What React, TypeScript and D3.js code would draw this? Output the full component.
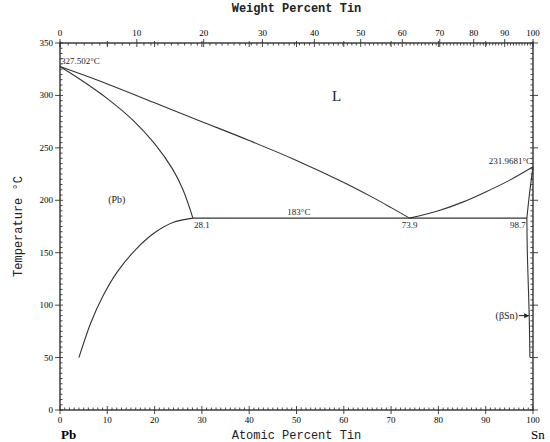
import React, { useRef, useEffect } from 'react'
import * as d3 from 'd3'

// phase boundaries, [atomic % Sn, temperature C]
const liquidusPb = [[0, 327.502], [10, 311], [20, 293], [30, 275], [40, 257], [50, 238], [60, 217], [66, 203], [70, 193], [73.9, 183]]
const solidusPb = [[0, 327.502], [5, 313], [10, 297], [15.4, 276.5], [20, 254], [23.9, 229], [26, 210], [28.1, 183]]
const solvusPb = [[28.1, 183], [24, 179], [20, 169], [16, 153], [12, 131], [9, 108], [6.5, 83], [4, 50]]
const liquidusSn = [[73.9, 183], [80, 190], [85, 198], [90, 208], [95, 219], [100, 231.9681]]
const solidusSn = [[100, 231.9681], [99.5, 215], [99.1, 200], [98.7, 183]]
const solvusSn = [[98.7, 183], [98.8, 150], [99.0, 120], [99.2, 90], [99.35, 50]]
const eutectic = [[28.1, 183], [98.7, 183]]

const atTicks = [0, 10, 20, 30, 40, 50, 60, 70, 80, 90, 100]
const wtTicks = [0, 10, 20, 30, 40, 50, 60, 70, 80, 90, 100]
const tempTicks = [0, 50, 100, 150, 200, 250, 300, 350]

// weight % -> atomic % (Pb 207.2, Sn 118.71)
const wtToAt = (w: number) => {
  const sn = w / 118.71
  const pb = (100 - w) / 207.2
  return (sn / (sn + pb)) * 100
}

function App() {
  const ref = useRef<SVGSVGElement>(null)
  const width = 550, height = 442
  const margin = { top: 43, right: 17, bottom: 32, left: 60 }

  useEffect(() => {
    const svg = d3.select(ref.current)
    svg.selectAll('*').remove()

    const x = d3.scaleLinear().domain([0, 100]).range([margin.left, width - margin.right])
    const y = d3.scaleLinear().domain([0, 350]).range([height - margin.bottom, margin.top])
    const x0 = x(0), x1 = x(100), y0 = y(0), y1 = y(350)
    const numFont = 'Liberation Serif, serif'
    const titleFont = 'Liberation Mono, monospace'

    // frame
    svg.append('rect')
      .attr('x', x0).attr('y', y1)
      .attr('width', x1 - x0).attr('height', y0 - y1)
      .attr('fill', 'none').attr('stroke', '#222').attr('stroke-width', 1.3)

    const g = svg.append('g').attr('stroke', '#333').attr('stroke-width', 0.9)

    // bottom axis (atomic %)
    d3.range(0, 101, 1).forEach(v => {
      const major = v % 10 === 0
      g.append('line').attr('x1', x(v)).attr('x2', x(v))
        .attr('y1', y0 - (major ? 4 : 2.5)).attr('y2', y0 + (major ? 4 : 0))
    })
    atTicks.forEach(v => {
      svg.append('text').attr('x', x(v)).attr('y', y0 + 13)
        .attr('text-anchor', 'middle').attr('font-family', numFont).attr('font-size', 9)
        .text(v)
    })

    // top axis (weight %), plus atomic % marks
    d3.range(0, 101, 1).forEach(v => {
      const major = v % 10 === 0
      g.append('line').attr('x1', x(wtToAt(v))).attr('x2', x(wtToAt(v)))
        .attr('y1', y1 - (major ? 4 : 0)).attr('y2', y1 + (major ? 4 : 2.5))
    })
    atTicks.forEach(v => {
      g.append('line').attr('x1', x(v)).attr('x2', x(v))
        .attr('y1', y1 - 2).attr('y2', y1 + 4)
    })
    wtTicks.forEach(v => {
      svg.append('text').attr('x', x(wtToAt(v))).attr('y', y1 - 7)
        .attr('text-anchor', 'middle').attr('font-family', numFont).attr('font-size', 9)
        .text(v)
    })

    // left + right axes (temperature)
    d3.range(0, 351, 5).forEach(v => {
      const major = v % 50 === 0
      g.append('line').attr('x1', x0 - (major ? 5 : 0)).attr('x2', x0 + (major ? 3 : 2.5))
        .attr('y1', y(v)).attr('y2', y(v))
      g.append('line').attr('x1', x1 - (major ? 3 : 2.5)).attr('x2', x1 + (major ? 5 : 0))
        .attr('y1', y(v)).attr('y2', y(v))
    })
    tempTicks.forEach(v => {
      svg.append('text').attr('x', x0 - 7).attr('y', y(v) + 3)
        .attr('text-anchor', 'end').attr('font-family', numFont).attr('font-size', 9)
        .text(v)
    })

    // axis titles
    svg.append('text').attr('x', (x0 + x1) / 2).attr('y', 12)
      .attr('text-anchor', 'middle').attr('font-family', titleFont).attr('font-size', 12)
      .attr('font-weight', 'bold').attr('fill', '#222')
      .text('Weight Percent Tin')
    svg.append('text').attr('x', (x0 + x1) / 2).attr('y', 439)
      .attr('text-anchor', 'middle').attr('font-family', titleFont).attr('font-size', 12)
      .attr('fill', '#222')
      .text('Atomic Percent Tin')
    svg.append('text')
      .attr('transform', `translate(22, ${(y0 + y1) / 2}) rotate(-90)`)
      .attr('text-anchor', 'middle').attr('font-family', titleFont).attr('font-size', 12)
      .attr('fill', '#222')
      .text('Temperature °C')
    svg.append('text').attr('x', x0 + 1).attr('y', 439)
      .attr('font-family', numFont).attr('font-size', 13).attr('font-weight', 'bold')
      .text('Pb')
    svg.append('text').attr('x', x1 - 2).attr('y', 439)
      .attr('font-family', numFont).attr('font-size', 13)
      .text('Sn')

    // phase boundaries
    const lineGen = d3.line<number[]>()
      .x(d => x(d[0]))
      .y(d => y(d[1]))
      .curve(d3.curveCatmullRom.alpha(0.5))
    const curves = [liquidusPb, solidusPb, solvusPb, liquidusSn, solidusSn, solvusSn, eutectic]
    curves.forEach(c => {
      svg.append('path').datum(c)
        .attr('d', lineGen)
        .attr('fill', 'none').attr('stroke', '#333').attr('stroke-width', 1.1)
    })

    // labels
    const lab = (tx: string, px: number, py: number, size: number, anchor = 'start') =>
      svg.append('text').attr('x', px).attr('y', py)
        .attr('text-anchor', anchor).attr('font-family', numFont).attr('font-size', size)
        .attr('fill', '#222').text(tx)
    lab('327.502°C', x(0) + 1, y(327.502) - 3, 9)
    lab('231.9681°C', x(100) - 1, y(231.9681) - 3, 9, 'end')
    lab('183°C', x(50.5), y(183) - 3, 9, 'middle')
    lab('28.1', x(28.1) + 1, y(183) + 10, 9)
    lab('73.9', x(73.9), y(183) + 10, 9, 'middle')
    lab('98.7', x(98.7) - 1, y(183) + 10, 9, 'end')
    lab('L', x(58.5), y(300) + 6, 15, 'middle')
    lab('(Pb)', x(12), y(200) + 3, 10, 'middle')
    lab('(βSn)', x(96.8), y(90) + 3, 10, 'end')

    // arrow to (βSn)
    svg.append('line')
      .attr('x1', x(97)).attr('x2', x(99.1))
      .attr('y1', y(90)).attr('y2', y(90))
      .attr('stroke', '#222').attr('stroke-width', 1)
    svg.append('path')
      .attr('d', `M${x(99.2)},${y(90)} l-5,-2.5 l0,5 z`)
      .attr('fill', '#222')
  }, [])

  return (
    <svg ref={ref} width={width} height={height} viewBox={`0 0 ${width} ${height}`}
      style={{ position: 'absolute', left: 0, top: 0, background: '#fff' }} />
  )
}

export default App
